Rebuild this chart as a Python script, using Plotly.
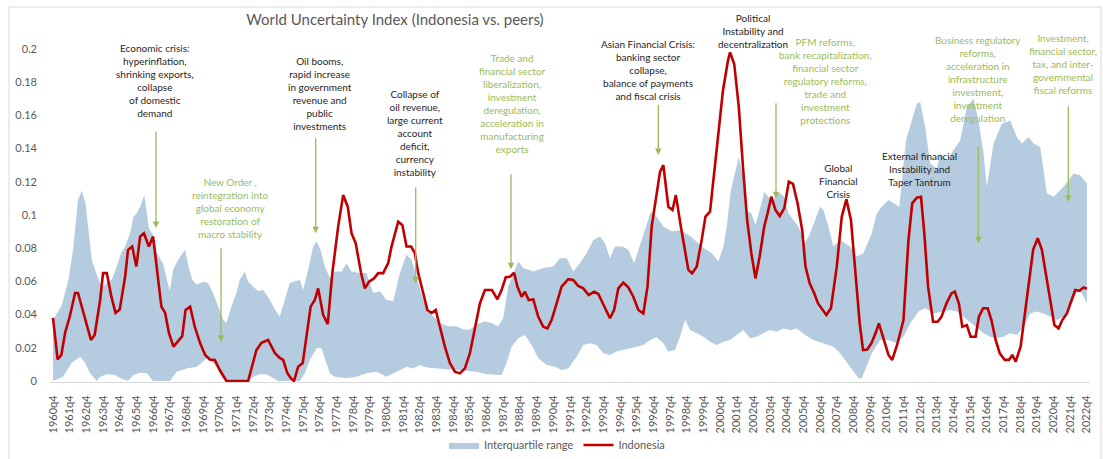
import plotly.graph_objects as go

# ---------------- data (x = quarters since 1960q4) ----------------
years = list(range(1960, 2023))
tick_pos = [4 * i for i in range(len(years))]
tick_labels = [f"{y}q4" for y in years]

indo_q = [0, 1.1, 2, 2.9, 4, 5.3, 6, 7.3, 8, 9.1, 10, 11.3, 12, 12.9, 14, 15, 16, 17.3, 18, 19,
          20, 20.9, 21.8, 23, 24, 24.9, 26, 26.9, 27.8, 28.9, 29.9, 31, 31.8, 32.9, 34, 35.3, 36.5,
          37.6, 38.8, 40, 41.6, 46.8, 48.8, 50, 51.6, 53.2, 54.4, 55.2, 56.2, 57, 57.8, 58.8, 59.9,
          61, 61.8, 62.8, 63.6, 64.8, 65.9, 67, 68.4, 69.6, 70.7, 71.6, 72.6, 73.9, 74.8, 75.8, 77,
          78, 79.2, 80.4, 81.2, 82.8, 83.8, 84.8, 85.9, 86.8, 87.6, 88.8, 89.8, 90.8, 91.8, 92.8, 94,
          95.2, 96.4, 97.6, 98.8, 100, 101.2, 102.4, 103.6, 105.3, 106.6, 107.6, 108.6, 109.6, 110.6,
          111.4, 112.4, 113.2, 114.1, 115.2, 116.4, 117.6, 118.6, 119.6, 120.8, 122, 123.6, 124.8,
          126, 127.2, 128.5, 129.8, 130.8, 132.2, 133.6, 134.6, 135.6, 136.8, 138, 139.2, 140.4,
          141.6, 142.6, 143.6, 144.6, 145.6, 146.4, 147.6, 148.6, 149.4, 150.6, 151.7, 152.4, 153.3,
          154.4, 155.6, 156.5, 157.6, 158.6, 159.5, 160.7, 161.9, 162.4, 163.4, 164.5, 165.5, 166.5,
          167.5, 168.5, 169.5, 170.6, 171.4, 172.3, 173.3, 174.3, 175.4, 176.5, 177.5, 178.6, 179.7,
          180.5, 181.5, 182.6, 183.5, 184.7, 185.5, 186.6, 188, 189.2, 190.3, 191.4, 192.5, 193.5,
          194.3, 195.3, 196.3, 197.3, 198.1, 199.4, 200.4, 201.3, 202.5, 204, 205.2, 206.1, 207.2,
          208.2, 209, 209.9, 211.1, 212.2, 213.1, 214.3, 215.5, 216.3, 217.3, 218.1, 219.2, 220.1,
          221.3, 222.1, 223.1, 224.2, 225.1, 226.1, 227.1, 228.3, 229.3, 230.1, 230.9, 232.1, 233.3,
          234.3, 235.1, 236.2, 237.2, 238.4, 239.4, 240.2, 241.2, 242.1, 243.2, 244.4, 245.2, 246.2,
          247.2, 248]
indo_v = [0.038, 0.013, 0.0157, 0.029, 0.0387, 0.053, 0.053, 0.041, 0.035, 0.0247, 0.0277, 0.0488,
          0.065, 0.065, 0.0508, 0.041, 0.043, 0.0628, 0.079, 0.081, 0.069, 0.087, 0.089, 0.081, 0.087,
          0.069, 0.0448, 0.041, 0.029, 0.0207, 0.0237, 0.027, 0.0428, 0.0448, 0.0327, 0.0227, 0.0157,
          0.013, 0.0127, 0.0066, 0.0, 0.0, 0.0187, 0.023, 0.0247, 0.0169, 0.0139, 0.0127, 0.0048,
          0.0018, 0.0, 0.0086, 0.0108, 0.029, 0.0448, 0.0488, 0.0558, 0.0398, 0.0343, 0.065, 0.093,
          0.112, 0.105, 0.089, 0.083, 0.065, 0.0558, 0.0598, 0.0618, 0.065, 0.065, 0.071, 0.081,
          0.096, 0.094, 0.081, 0.081, 0.077, 0.065, 0.053, 0.0428, 0.041, 0.0428, 0.0327, 0.0207,
          0.0108, 0.0056, 0.0046, 0.0076, 0.0167, 0.0327, 0.0467, 0.0548, 0.0548, 0.0492, 0.0548,
          0.0625, 0.0628, 0.0652, 0.0568, 0.0508, 0.0538, 0.0488, 0.0492, 0.0387, 0.0327, 0.0317,
          0.0367, 0.0467, 0.0568, 0.0613, 0.0608, 0.0572, 0.0558, 0.0518, 0.0538, 0.0524, 0.0448,
          0.0378, 0.0428, 0.0558, 0.0592, 0.0564, 0.0508, 0.0428, 0.0407, 0.0568, 0.093, 0.111,
          0.126, 0.130, 0.105, 0.103, 0.112, 0.093, 0.0769, 0.0669, 0.0649, 0.0689, 0.085, 0.099,
          0.102, 0.125, 0.149, 0.175, 0.193, 0.198, 0.191, 0.165, 0.129, 0.097, 0.077, 0.0618,
          0.0749, 0.093, 0.101, 0.111, 0.103, 0.0994, 0.104, 0.120, 0.1187, 0.107, 0.091, 0.0689,
          0.0588, 0.0528, 0.0467, 0.0428, 0.0398, 0.0438, 0.0689, 0.099, 0.1094, 0.097, 0.0649,
          0.0347, 0.0187, 0.019, 0.0227, 0.0287, 0.0347, 0.0247, 0.0157, 0.0127, 0.022, 0.0367,
          0.085, 0.107, 0.1105, 0.111, 0.089, 0.0568, 0.0357, 0.0357, 0.0387, 0.0467, 0.0528,
          0.0538, 0.0467, 0.0327, 0.0337, 0.0267, 0.0267, 0.0387, 0.0438, 0.0438, 0.0367, 0.0247,
          0.0167, 0.0127, 0.0127, 0.0157, 0.0116, 0.0207, 0.0428, 0.0628, 0.079, 0.086, 0.079,
          0.0608, 0.0448, 0.0337, 0.0317, 0.0367, 0.0407, 0.0488, 0.0548, 0.0544, 0.0564, 0.0556]

iqr_hi_q = [0, 2, 3.7, 4.9, 6, 6.9, 7.8, 8.5, 9.3, 10.5, 11.7, 12.9, 14.1, 15.3, 16.3, 17.3, 18.5,
            19.3, 20.1, 20.9, 21.9, 23, 24, 25, 26.5, 28, 28.8, 30, 31.7, 32.5, 33.4, 34.5, 36, 37.2,
            38.4, 39.6, 40.8, 41.6, 42.8, 44, 44.8, 46, 46.8, 47.6, 48.4, 49.2, 50.4, 52, 53.2, 54.4,
            55.6, 56.8, 58, 59.2, 60, 61.2, 62.4, 63.2, 64.2, 65.2, 66.4, 67.6, 69.2, 70.4, 71.6,
            73.6, 75.2, 76.8, 78.4, 80, 81.6, 83.2, 84.8, 86, 87.2, 88.8, 90.4, 92.8, 94.8, 96.8,
            98.4, 100, 101.6, 103.6, 105.2, 106.8, 108, 109.2, 110.8, 111.6, 112.8, 115.2, 117.6,
            120, 121.6, 123.2, 124.8, 126.4, 128, 129.6, 131.2, 132.4, 133.6, 134.8, 136.6, 138,
            139.4, 140.8, 142.2, 143.4, 144.8, 146.4, 148.5, 150.5, 153, 155.6, 158, 159.6, 160.8,
            161.6, 162.6, 164.5, 165.5, 166.2, 167.5, 168.5, 169.5, 170.6, 171.6, 172.8, 174, 175.4,
            176.4, 177.6, 178.8, 180.4, 181.6, 182.8, 184, 184.8, 186, 187.2, 188.8, 191.2, 192.8,
            194.4, 196.4, 197.6, 198.8, 200.4, 201.6, 203, 204.6, 207.2, 208, 209.2, 210.4, 212,
            212.8, 214.4, 216, 217.6, 219.2, 220.8, 222, 223.2, 224, 225.6, 227.6, 229.6, 231.2,
            232.4, 234, 235.2, 236.8, 238.4, 240, 242.4, 244.8, 246.4, 248]
iqr_hi_v = [0.037, 0.045, 0.0608, 0.081, 0.109, 0.1146, 0.107, 0.089, 0.073, 0.064, 0.056, 0.059,
            0.061, 0.069, 0.077, 0.081, 0.089, 0.099, 0.101, 0.105, 0.112, 0.092, 0.088, 0.077,
            0.070, 0.054, 0.067, 0.073, 0.079, 0.069, 0.061, 0.058, 0.060, 0.059, 0.053, 0.045,
            0.037, 0.035, 0.045, 0.053, 0.061, 0.066, 0.060, 0.058, 0.056, 0.054, 0.055, 0.049,
            0.043, 0.039, 0.049, 0.059, 0.060, 0.061, 0.055, 0.067, 0.081, 0.084, 0.079, 0.069,
            0.062, 0.066, 0.066, 0.071, 0.066, 0.065, 0.065, 0.053, 0.054, 0.049, 0.048, 0.065,
            0.076, 0.073, 0.063, 0.049, 0.041, 0.035, 0.033, 0.033, 0.031, 0.031, 0.034, 0.036,
            0.035, 0.033, 0.038, 0.057, 0.067, 0.072, 0.068, 0.066, 0.068, 0.069, 0.074, 0.074,
            0.066, 0.071, 0.077, 0.085, 0.087, 0.083, 0.074, 0.081, 0.081, 0.079, 0.071, 0.082,
            0.092, 0.102, 0.099, 0.093, 0.090, 0.091, 0.087, 0.081, 0.077, 0.072, 0.081, 0.093,
            0.115, 0.135, 0.123, 0.103, 0.101, 0.094, 0.103, 0.114, 0.111, 0.109, 0.114, 0.111,
            0.101, 0.097, 0.093, 0.083, 0.089, 0.097, 0.105, 0.103, 0.093, 0.081, 0.085, 0.081,
            0.075, 0.077, 0.089, 0.101, 0.105, 0.109, 0.107, 0.105, 0.145, 0.167, 0.168, 0.153,
            0.131, 0.128, 0.137, 0.133, 0.139, 0.145, 0.165, 0.170, 0.157, 0.137, 0.117, 0.143,
            0.155, 0.157, 0.147, 0.143, 0.147, 0.143, 0.141, 0.113, 0.111, 0.117, 0.125, 0.124,
            0.119]

iqr_lo_q = [0, 2.4, 4.5, 6.5, 7.7, 8.9, 10.5, 11.3, 12.9, 14.9, 16.1, 18, 19.3, 20.9, 22.5, 24, 28,
            29.7, 32, 34.5, 35.7, 36.9, 38.1, 39.3, 40, 40.8, 41.6, 47, 48, 49.6, 51.2, 52.8, 54,
            59.2, 60.4, 61.6, 63.2, 64.4, 65.2, 66.4, 67.6, 70.4, 72.8, 75.2, 77.6, 80, 81.6, 83.2,
            84.8, 86.4, 88, 89.6, 92, 94.4, 96.8, 99.2, 101.6, 104, 106.4, 107.6, 108.8, 110, 111.6,
            113.2, 114.8, 116.4, 118.4, 120.4, 122, 123.6, 125.6, 127.2, 128.8, 130.4, 132, 133.6,
            135.2, 136.8, 138.4, 140, 141.6, 143.2, 144.8, 146.4, 147.6, 149.2, 150.4, 151.6, 152.8,
            154.4, 156, 157.6, 159.2, 160.8, 162.4, 164, 165.6, 167.2, 168.8, 170.4, 172, 173.6,
            175.2, 176.8, 178.4, 180.4, 182.4, 184.8, 187.2, 188.8, 190.4, 192, 193.2, 194, 194.8,
            196.4, 198.4, 200.4, 202.4, 204, 205.6, 207.6, 209.2, 211.2, 213.2, 215.2, 216.8, 218.4,
            220.8, 223.2, 224.8, 226.4, 228, 229.6, 231.2, 232.8, 234.4, 236, 237.6, 239.2, 240.8,
            242.4, 244, 245.6, 246.8, 248]
iqr_lo_v = [0.0, 0.0026, 0.011, 0.0146, 0.011, 0.0046, 0.0, 0.0026, 0.004, 0.0036, 0.0016, 0.0,
            0.0036, 0.005, 0.0046, 0.0, 0.0, 0.0056, 0.0076, 0.0086, 0.011, 0.0137, 0.0116, 0.0086,
            0.0046, 0.0016, 0.0, 0.0, 0.0026, 0.004, 0.004, 0.0016, 0.0, 0.0, 0.0046, 0.0127,
            0.0197, 0.0197, 0.0137, 0.0046, 0.0026, 0.0016, 0.0026, 0.0046, 0.0056, 0.0026, 0.005,
            0.0066, 0.0086, 0.0076, 0.0096, 0.0082, 0.0076, 0.007, 0.0066, 0.0062, 0.0056, 0.004,
            0.0036, 0.0036, 0.011, 0.0207, 0.0257, 0.0277, 0.0217, 0.0137, 0.0096, 0.0086, 0.0066,
            0.0076, 0.0146, 0.0217, 0.0227, 0.0217, 0.0167, 0.0157, 0.0177, 0.0187, 0.0197, 0.0207,
            0.0217, 0.0247, 0.0263, 0.0227, 0.0177, 0.0187, 0.0267, 0.0367, 0.0307, 0.0287, 0.0267,
            0.0237, 0.0217, 0.0237, 0.0247, 0.0277, 0.0307, 0.0257, 0.0267, 0.0287, 0.0307, 0.0297,
            0.0317, 0.0307, 0.0317, 0.0277, 0.0247, 0.0227, 0.0207, 0.0167, 0.0116, 0.0056, 0.0016,
            0.0016, 0.0066, 0.0167, 0.0247, 0.0247, 0.0227, 0.0267, 0.0347, 0.0418, 0.0438, 0.0407,
            0.0418, 0.0428, 0.0418, 0.0387, 0.0337, 0.0287, 0.0267, 0.0257, 0.0267, 0.0287, 0.0277,
            0.0327, 0.0407, 0.0418, 0.0407, 0.0387, 0.0367, 0.0387, 0.0458, 0.0538, 0.0528, 0.0467]

y_ticks = [0, 0.02, 0.04, 0.06, 0.08, 0.1, 0.12, 0.14, 0.16, 0.18, 0.2]
y_tick_text = ["0", "0.02", "0.04", "0.06", "0.08", "0.1", "0.12", "0.14", "0.16", "0.18", "0.2"]

# ---------------- styling ----------------
FONT = "Lato, 'Open Sans', sans-serif"
BAND = "#B5CCE0"
RED = "#C00000"
GREEN = "#9BBB59"
DARK = "#262626"
GREY = "#595959"

W, H = 1103, 459
L, R, T, B = 50, 13, 40, 77
PW, PH = W - L - R, H - T - B


def paper(px, py):
    return (px - L) / PW, (H - B - py) / PH


fig = go.Figure()
fig.add_trace(go.Scatter(
    x=iqr_hi_q + iqr_lo_q[::-1], y=iqr_hi_v + iqr_lo_v[::-1],
    fill="toself", fillcolor=BAND, mode="lines", line=dict(width=0, color=BAND),
    name="Interquartile range", hoverinfo="skip"))
fig.add_trace(go.Scatter(
    x=indo_q, y=indo_v, mode="lines", line=dict(color=RED, width=2.6),
    name="Indonesia"))

# text annotations: (text, colour, centre x px, centre y px)
notes = [
    ("Economic crisis:<br>hyperinflation,<br>shrinking exports,<br>collapse<br>of domestic<br>demand", DARK, 155, 80.5),
    ("Oil booms,<br>rapid increase<br>in government<br>revenue and<br>public<br>investments", DARK, 320, 93.5),
    ("New Order ,<br>reintegration into<br>global economy<br>restoration of<br>macro stability", GREEN, 230, 207.5),
    ("Collapse of<br>oil revenue,<br>large current<br>account<br>deficit,<br>currency<br>instability", DARK, 415, 133),
    ("Trade and<br>financial sector<br>liberalization,<br>investment<br>deregulation,<br>acceleration in<br>manufacturing<br>exports", GREEN, 512, 103),
    ("Asian Financial Crisis:<br>banking sector<br>collapse,<br>balance of payments<br>and fiscal crisis", DARK, 648, 69.5),
    ("Political<br>Instability and<br>decentralization", DARK, 753, 30.5),
    ("PFM reforms,<br>bank recapitalization,<br>financial sector<br>regulatory reforms,<br>trade and<br>investment<br>protections", GREEN, 825, 81),
    ("Global<br>Financial<br>Crisis", DARK, 838, 180.5),
    ("External financial<br>Instability and<br>Taper Tantrum", DARK, 919, 169),
    ("Business regulatory<br>reforms,<br>acceleration in<br>infrastructure<br>investment,<br>investment<br>deregulation", GREEN, 978, 79.5),
    ("Investment,<br>financial sector,<br>tax, and inter-<br>governmental<br>fiscal reforms", GREEN, 1063, 64),
]
for text, col, cx, cy in notes:
    xp, yp = paper(cx, cy)
    fig.add_annotation(text=text, x=xp, y=yp, xref="paper", yref="paper",
                       xanchor="center", yanchor="middle", showarrow=False,
                       align="center", font=dict(family=FONT, size=10, color=col))

# arrows: (x px, tail y px, tip y px)
arrows = [(156, 130, 228), (221, 246.7, 341.7), (315.7, 136.7, 233.3), (415.7, 186, 283.3),
          (511, 172.7, 269.3), (658.3, 103.3, 155), (776, 101.7, 198.3), (978.3, 145, 243.3),
          (1068.3, 105, 201.7)]
for ax_, ty, hy in arrows:
    xp, yp = paper(ax_, hy)
    fig.add_annotation(text="", x=xp, y=yp, xref="paper", yref="paper",
                       showarrow=True, ax=0, ay=ty - hy, arrowhead=2, arrowsize=1,
                       arrowwidth=1.3, arrowcolor=GREEN, standoff=0)

# outer frame
x0, y1 = paper(9, 7)
x1, y0 = paper(1101, 470)
fig.add_shape(type="rect", xref="paper", yref="paper", x0=x0, x1=x1, y0=y0, y1=y1,
              line=dict(color="#D9D9D9", width=1), fillcolor="rgba(0,0,0,0)", layer="below")

fig.update_layout(
    width=W, height=H, margin=dict(l=L, r=R, t=T, b=B, autoexpand=False),
    paper_bgcolor="white", plot_bgcolor="white",
    font=dict(family=FONT, size=11, color=GREY),
    title=dict(text="World Uncertainty Index (Indonesia vs. peers)", x=395 / W, xanchor="center",
               xref="container", y=1 - 20 / H, yref="container", yanchor="middle",
               font=dict(family=FONT, size=15, color=GREY)),
    showlegend=True,
    legend=dict(orientation="h", x=paper(557, 0)[0], xanchor="center",
                y=paper(0, 445)[1], yanchor="middle", font=dict(size=11, color=GREY),
                bgcolor="rgba(0,0,0,0)"),
    xaxis=dict(range=[(L - 53) / 4.169, (W - R - 53) / 4.169], tickmode="array",
               tickvals=tick_pos, ticktext=tick_labels, tickangle=-90, showgrid=False,
               zeroline=False, showline=True, linecolor="#D9D9D9", linewidth=1, automargin=False,
               ticks="", ticklabelstandoff=8, tickfont=dict(size=11, color=GREY)),
    yaxis=dict(range=[-1 / 1660, (H - B - 1 - T) / 1660], tickmode="array", tickvals=y_ticks,
               ticktext=y_tick_text, showgrid=False, zeroline=False, showline=False,
               automargin=False,
               ticks="", ticklabelstandoff=12, tickfont=dict(size=11, color=GREY)),
)

fig.write_html("out.html", config={"displayModeBar": False},
               post_script="document.body.style.margin='0';document.body.style.overflow='hidden';")
